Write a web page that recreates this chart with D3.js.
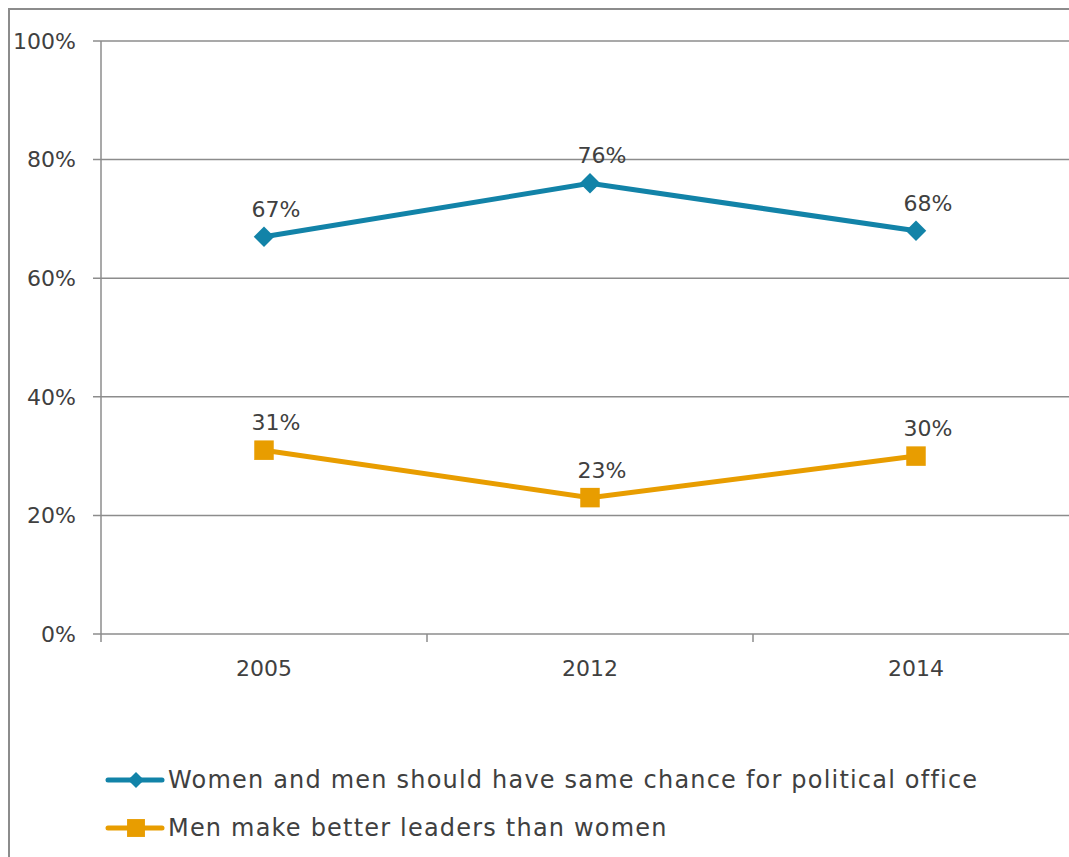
<!DOCTYPE html>
<html>

<head>
    <meta charset="utf-8" />
    <title>Line Chart</title>
    <script type="text/javascript" src="https://cdn.jsdelivr.net/npm/d3@7"></script>
    <style>
        body { margin: 0; background: #fff; }
        text { font-family: "DejaVu Sans", sans-serif; fill: #404040; }
    </style>
</head>

<body>
    <script type="text/javascript">
        const years = ["2005", "2012", "2014"];
        const sameChance = [67, 76, 68];
        const menBetter = [31, 23, 30];
        const yTicks = [0, 20, 40, 60, 80, 100];
        const seriesNames = [
            "Women and men should have same chance for political office",
            "Men make better leaders than women"
        ];

        const width = 1069,
            height = 857,
            margin = { top: 41, left: 101, bottom: 223 };

        const plotW = 978,
            plotH = height - margin.top - margin.bottom;

        const svg = d3.select("body").append("svg")
            .attr("width", width)
            .attr("height", height);

        // outer frame
        svg.append("rect")
            .attr("x", 9).attr("y", 9)
            .attr("width", 1200).attr("height", 1000)
            .attr("fill", "none")
            .attr("stroke", "#8c8c8c")
            .attr("stroke-width", 2);

        const x = d3.scaleBand().domain(years).range([0, plotW]);
        const y = d3.scaleLinear().domain([0, 100]).range([plotH, 0]);

        const g = svg.append("g")
            .attr("transform", `translate(${margin.left},${margin.top})`);

        // gridlines
        g.selectAll("line.grid")
            .data(yTicks)
            .enter().append("line")
            .attr("class", "grid")
            .attr("x1", -8).attr("x2", plotW)
            .attr("y1", d => y(d)).attr("y2", d => y(d))
            .attr("stroke", "#8c8c8c")
            .attr("stroke-width", 1.5);

        g.selectAll("text.ylab")
            .data(yTicks)
            .enter().append("text")
            .attr("class", "ylab")
            .attr("x", -25)
            .attr("y", d => y(d))
            .attr("dy", "0.35em")
            .attr("text-anchor", "end")
            .style("font-size", "22px")
            .text(d => d + "%");

        // y axis line
        g.append("line")
            .attr("x1", 0).attr("x2", 0)
            .attr("y1", 0).attr("y2", plotH)
            .attr("stroke", "#8c8c8c")
            .attr("stroke-width", 1.5);

        // x ticks at band edges
        const edges = years.map(d => x(d)).concat([plotW]);
        g.selectAll("line.xtick")
            .data(edges)
            .enter().append("line")
            .attr("class", "xtick")
            .attr("x1", d => d).attr("x2", d => d)
            .attr("y1", plotH).attr("y2", plotH + 8)
            .attr("stroke", "#8c8c8c")
            .attr("stroke-width", 1.5);

        g.selectAll("text.xlab")
            .data(years)
            .enter().append("text")
            .attr("class", "xlab")
            .attr("x", d => x(d) + x.bandwidth() / 2)
            .attr("y", plotH + 34)
            .attr("dy", "0.35em")
            .attr("text-anchor", "middle")
            .style("font-size", "22px")
            .text(d => d);

        // diamond = square turned 45 degrees
        const series = [
            { name: seriesNames[0], values: sameChance, color: "#1283a8", shape: d3.symbolSquare, size: 210, rot: 45, legendSize: 130 },
            { name: seriesNames[1], values: menBetter, color: "#e89d00", shape: d3.symbolSquare, size: 380, rot: 0, legendSize: 320 }
        ];

        const line = d3.line()
            .x((d, i) => x(years[i]) + x.bandwidth() / 2)
            .y(d => y(d));

        series.forEach(s => {
            g.append("path")
                .datum(s.values)
                .attr("d", line)
                .attr("fill", "none")
                .attr("stroke", s.color)
                .attr("stroke-width", 5);

            g.selectAll(null)
                .data(s.values)
                .enter().append("path")
                .attr("transform", (d, i) => `translate(${x(years[i]) + x.bandwidth() / 2},${y(d)}) rotate(${s.rot})`)
                .attr("d", d3.symbol().type(s.shape).size(s.size))
                .attr("fill", s.color);

            g.selectAll(null)
                .data(s.values)
                .enter().append("text")
                .attr("x", (d, i) => x(years[i]) + x.bandwidth() / 2 + 12)
                .attr("y", d => y(d) - 20)
                .attr("text-anchor", "middle")
                .style("font-size", "22px")
                .text(d => d + "%");
        });

        // legend
        const legend = svg.append("g")
            .attr("transform", "translate(108,780)");

        series.forEach((s, i) => {
            const row = legend.append("g")
                .attr("transform", `translate(0,${i * 48})`);
            row.append("line")
                .attr("x1", 0).attr("x2", 54)
                .attr("stroke", s.color)
                .attr("stroke-width", 5)
                .attr("stroke-linecap", "round");
            row.append("path")
                .attr("transform", `translate(28,0) rotate(${s.rot})`)
                .attr("d", d3.symbol().type(s.shape).size(s.legendSize))
                .attr("fill", s.color);
            row.append("text")
                .attr("x", 60)
                .attr("dy", "0.35em")
                .style("font-size", "24px")
                .style("letter-spacing", "1.2px")
                .text(s.name);
        });
    </script>
</body>

</html>
